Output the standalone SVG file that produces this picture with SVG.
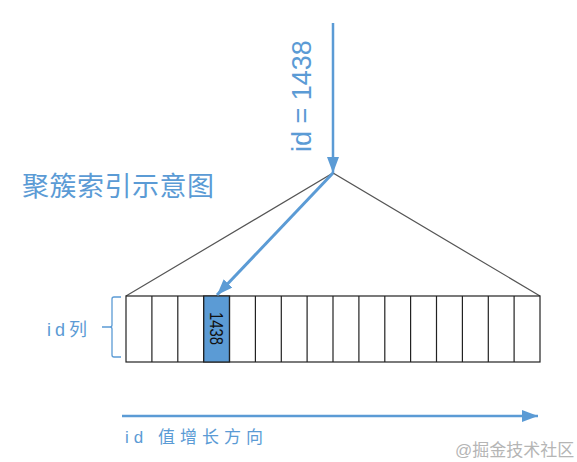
<svg xmlns="http://www.w3.org/2000/svg" width="577" height="462" viewBox="0 0 577 462">
<style>
.blue{fill:#5b9bd5;font-family:"Liberation Sans","Noto Sans CJK SC",sans-serif}
.cell{fill:#fff;stroke:#222;stroke-width:1.2}
.tri{fill:none;stroke:#555;stroke-width:1.2}
.arr{stroke:#5b9bd5;fill:none}
</style>
<defs>
<marker id="ah2" markerWidth="16" markerHeight="12" refX="16" refY="6" orient="auto" markerUnits="userSpaceOnUse" viewBox="0 0 16 12">
<path d="M0,0 L16,6 L0,12 z" fill="#5b9bd5"/>
</marker>
</defs>
<rect width="577" height="462" fill="#fff"/>
<g id="title"><text class="blue" x="22" y="196" font-size="27" textLength="192">聚簇索引示意图</text></g>
<g id="query-label"><text class="blue" transform="translate(311,152) rotate(-90)" font-size="27" font-weight="300">id = 1438</text></g>
<g id="tree"><polyline class="tri" points="126,296 333,173 540,296"/></g>
<g id="cells">
<rect class="cell" x="126" y="296" width="414" height="66"/>
<rect x="203.6" y="296" width="25.9" height="66" fill="#5b9bd5" stroke="#222" stroke-width="1.2"/>
<path stroke="#222" stroke-width="1.2" d="M151.9,296V362M177.8,296V362M203.6,296V362M229.5,296V362M255.4,296V362M281.3,296V362M307.1,296V362M333,296V362M358.9,296V362M384.8,296V362M410.6,296V362M436.5,296V362M462.4,296V362M488.3,296V362M514.1,296V362"/>
<text transform="translate(209.5,312) rotate(90)" font-family="Liberation Sans,sans-serif" font-size="18" fill="#111" textLength="33" lengthAdjust="spacingAndGlyphs">1438</text>
</g>
<g id="id-col">
<path d="M121,297 H114 Q112,297 112,299 V325 Q112,327 110,327 H102 M110,327 Q112,327 112,329 V355 Q112,357 114,357 H121" fill="none" stroke="#5b9bd5" stroke-width="1.3"/>
<text class="blue" x="47" y="336" font-size="18" textLength="40">id列</text>
</g>
<g id="connectors">
<line class="arr" x1="333" y1="23" x2="333" y2="173" stroke-width="2.5" marker-end="url(#ah2)"/>
<line class="arr" x1="333" y1="173" x2="217" y2="295" stroke-width="3" marker-end="url(#ah2)"/>
<line class="arr" x1="122" y1="416" x2="538" y2="416" stroke-width="2.5" marker-end="url(#ah2)"/>
</g>
<g id="axis-label"><text class="blue" x="125" y="443" font-size="17" textLength="138">id 值增长方向</text></g>
<text x="455" y="456" font-family="Liberation Sans,Noto Sans CJK SC,sans-serif" font-size="17" fill="#b5b5b5">@掘金技术社区</text>
</svg>
